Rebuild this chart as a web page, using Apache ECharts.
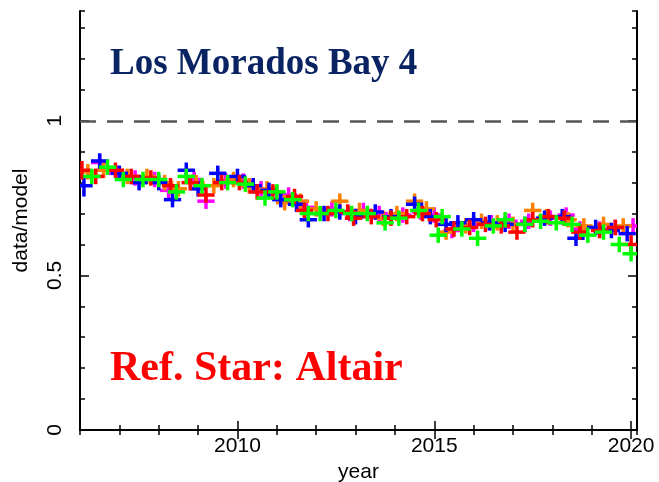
<!DOCTYPE html>
<html lang="en">
<head>
    <meta charset="UTF-8">
    <title>Los Morados Bay 4</title>
    <script src="https://cdn.jsdelivr.net/npm/echarts@6/dist/echarts.min.js"></script>
</head>
<body style="margin:0">
<div id="chart" style="width:659px;height:482px;"></div>
<script>
    // [year, data/model, optional y error]
    var blue = [[2006.1,0.79,0.035],[2006.5,0.87],[2007.0,0.83],[2007.5,0.80],[2008.0,0.80],[2008.35,0.745],[2008.7,0.84],
        [2009.0,0.78],[2009.5,0.83],[2010.0,0.82],[2010.4,0.79],[2010.8,0.775],[2011.1,0.745],[2011.5,0.73],[2011.8,0.68],
        [2012.2,0.70],[2012.6,0.705],[2013.0,0.69],[2013.5,0.705],[2013.9,0.69],[2014.5,0.73],[2014.9,0.69],[2015.3,0.665],
        [2015.6,0.67],[2016.0,0.68],[2016.4,0.67],[2016.8,0.665],[2017.3,0.665],[2017.8,0.685],[2018.25,0.69],[2018.6,0.62],
        [2019.1,0.655],[2019.5,0.645],[2019.9,0.635]];
    var red = [[2006.05,0.84,0.03],[2006.4,0.82],[2006.9,0.84],[2007.3,0.82],[2007.8,0.815],[2008.3,0.79],[2008.8,0.80],
        [2009.2,0.76],[2009.6,0.80],[2010.05,0.80],[2010.5,0.77],[2010.9,0.77],[2011.45,0.755],[2011.7,0.71],[2012.3,0.70],
        [2012.8,0.705],[2012.95,0.685],[2013.4,0.69],[2013.9,0.685],[2014.3,0.69],[2014.7,0.70],[2015.05,0.68],[2015.5,0.65],
        [2015.9,0.655],[2016.3,0.665],[2016.7,0.66],[2017.1,0.64],[2017.5,0.68],[2017.9,0.69],[2018.3,0.685],[2018.7,0.64],
        [2019.2,0.645],[2019.6,0.655],[2020.0,0.60,0.03]];
    var green = [[2006.3,0.82],[2006.7,0.85],[2007.1,0.81],[2007.6,0.81],[2008.0,0.81],[2008.45,0.77],[2008.7,0.82],
        [2009.1,0.79],[2009.75,0.80],[2010.2,0.795],[2010.7,0.75],[2011.0,0.77],[2011.4,0.745],[2011.8,0.70],[2012.1,0.70],
        [2012.5,0.71],[2012.9,0.70],[2013.3,0.70],[2013.75,0.67],[2014.1,0.685],[2014.6,0.71],[2015.1,0.63],[2015.2,0.69],
        [2015.7,0.65],[2016.1,0.62],[2016.5,0.66],[2016.8,0.68],[2017.3,0.665],[2017.7,0.675],[2018.1,0.67],[2018.5,0.665],
        [2018.9,0.63],[2019.3,0.64],[2019.7,0.60],[2020.0,0.57,0.04]];
    var orange = [[2006.2,0.835],[2006.6,0.84],[2007.2,0.82],[2007.7,0.82],[2008.15,0.80],[2008.5,0.78],[2008.95,0.80],
        [2009.4,0.79],[2009.9,0.81],[2010.3,0.79],[2010.75,0.78],[2011.2,0.735],[2011.6,0.74],[2012.0,0.715],[2012.6,0.74],
        [2013.1,0.71],[2013.7,0.685],[2014.05,0.70],[2014.5,0.74],[2014.8,0.715],[2015.3,0.64],[2015.8,0.66],[2016.2,0.675],
        [2016.6,0.67],[2017.0,0.665],[2017.5,0.71],[2017.85,0.69],[2018.4,0.68],[2018.8,0.66],[2019.3,0.665],[2019.8,0.66]];
    var magenta = [[2006.5,0.865],[2006.95,0.83],[2007.4,0.815],[2007.9,0.81],[2008.25,0.775],[2008.9,0.81],[2009.2,0.74],
        [2009.7,0.805],[2010.15,0.805],[2010.6,0.78],[2011.0,0.765],[2011.3,0.76],[2011.75,0.72],[2012.4,0.715],[2012.85,0.70],
        [2013.2,0.71],[2013.6,0.70],[2014.2,0.695],[2014.65,0.705],[2015.0,0.695],[2015.45,0.645],[2016.0,0.665],[2016.45,0.67],
        [2016.9,0.675],[2017.4,0.675],[2017.95,0.685],[2018.35,0.695],[2018.7,0.65],[2019.2,0.65],[2019.6,0.655],[2020.05,0.66,0.03]];

    var xLabels = [2010, 2015, 2020];
    var yLabels = [0, 0.5, 1];
    var refLine = 1;

    var XERR = 0.22, YERR = 0.025;
    var font = 'Liberation Sans';

    function crossSeries(name, data, color) {
        return {
            name: name,
            type: 'custom',
            data: data,
            clip: true,
            renderItem: function (params, api) {
                var x = api.value(0), y = api.value(1);
                var ye = api.value(2) || YERR;
                var l = api.coord([x - XERR, y]), r = api.coord([x + XERR, y]);
                var b = api.coord([x, y - ye]), t = api.coord([x, y + ye]);
                var st = {stroke: color, lineWidth: 3.5};
                return {
                    type: 'group',
                    children: [
                        {type: 'line', shape: {x1: l[0], y1: l[1], x2: r[0], y2: r[1]}, style: st},
                        {type: 'line', shape: {x1: b[0], y1: b[1], x2: t[0], y2: t[1]}, style: st}
                    ]
                };
            }
        };
    }

    function xAx(pos, major, show) {
        var a = {
            type: 'value', position: pos, min: 2006, max: 2020.15,
            splitLine: {show: false},
            axisLine: {show: show, lineStyle: {color: '#000', width: 2}},
            axisTick: {inside: true, length: major ? 9 : 5, lineStyle: {color: '#000', width: 1.5}},
            axisLabel: {show: false}
        };
        if (major) a.axisTick.customValues = xLabels; else a.interval = 1;
        return a;
    }
    function yAx(pos, major, show) {
        var a = {
            type: 'value', position: pos, min: 0, max: 1.355,
            splitLine: {show: false},
            axisLine: {show: show, lineStyle: {color: '#000', width: 2}},
            axisTick: {inside: true, length: major ? 9 : 5, lineStyle: {color: '#000', width: 1.5}},
            axisLabel: {show: false}
        };
        if (major) a.axisTick.customValues = yLabels; else a.interval = 0.1;
        return a;
    }

    var xAxes = [xAx('bottom', false, true), xAx('bottom', true, false), xAx('top', false, true), xAx('top', true, false)];
    xAxes[0].axisLabel = {show: true, customValues: xLabels, color: '#000', fontSize: 21, fontFamily: font, margin: 6,
        formatter: function (v) { return String(Math.round(v)); }};
    xAxes[0].name = 'year';
    xAxes[0].nameLocation = 'middle';
    xAxes[0].nameGap = 29;
    xAxes[0].nameTextStyle = {color: '#000', fontSize: 21, fontFamily: font};

    var yAxes = [yAx('left', false, true), yAx('left', true, false), yAx('right', false, true), yAx('right', true, false)];
    yAxes[0].axisLabel = {show: true, customValues: yLabels, rotate: 90, color: '#000', fontSize: 21, fontFamily: font, margin: 14};
    yAxes[0].name = 'data/model';
    yAxes[0].nameLocation = 'middle';
    yAxes[0].nameRotate = 90;
    yAxes[0].nameGap = 48;
    yAxes[0].nameTextStyle = {color: '#000', fontSize: 21, fontFamily: font};

    var series = [
        crossSeries('magenta', magenta, '#ff00ff'),
        crossSeries('orange', orange, '#ff8000'),
        crossSeries('blue', blue, '#0000ff'),
        crossSeries('red', red, '#ff0000'),
        crossSeries('green', green, '#00ff00')
    ];
    series[0].markLine = {
        silent: true, symbol: 'none', label: {show: false},
        lineStyle: {color: '#555', width: 2.5, type: [16, 11]},
        data: [{yAxis: refLine}]
    };

    var myChart = echarts.init(document.getElementById('chart'));
    myChart.setOption({
        animation: false,
        backgroundColor: '#fff',
        grid: {left: 80, right: 22, top: 11, bottom: 52, outerBoundsMode: 'none', containLabel: false},
        xAxis: xAxes,
        yAxis: yAxes,
        graphic: [
            {type: 'text', left: 110, top: 46,
                style: {text: 'Los Morados Bay 4', fill: '#0a2463', font: 'bold 37px "Liberation Serif"'}},
            {type: 'text', left: 110, top: 348,
                style: {text: 'Ref. Star: Altair', fill: '#ff0000', font: 'bold 42px "Liberation Serif"'}}
        ],
        series: series
    });
</script>
</body>
</html>
